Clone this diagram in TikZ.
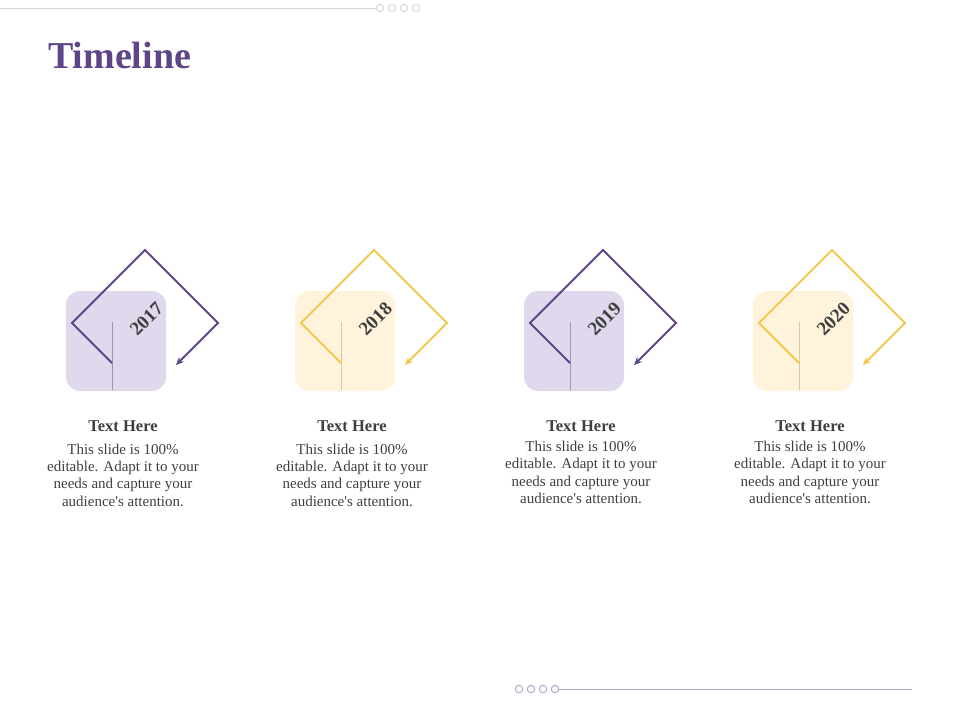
\documentclass[tikz,border=0pt]{standalone}
\usepackage{fontspec}
\setmainfont{Liberation Serif}[Ligatures=TeXOff]
\usetikzlibrary{arrows.meta}
\definecolor{purp}{HTML}{5E4488}
\definecolor{purpl}{HTML}{E0D8EC}
\definecolor{yel}{HTML}{F2C94C}
\definecolor{yell}{HTML}{FFF3DC}
\definecolor{txt}{HTML}{3F3F3F}
\definecolor{decot}{HTML}{D9D3E0}
\definecolor{decob}{HTML}{B6A9C4}
\tikzset{
  cardbox/.style={minimum width=100pt, minimum height=100pt, rounded corners=14pt, inner sep=0pt},
  diam/.style={line width=2pt, -{Stealth[length=8pt,width=7pt]}},
  seam/.style={line width=0.6pt, opacity=0.4},
  yearlbl/.style={font=\fontsize{19}{19}\selectfont\bfseries, text=txt, rotate=45, inner sep=0pt},
  headlbl/.style={font=\fontsize{16.5}{18}\selectfont\bfseries, text=txt, anchor=base, inner sep=0pt},
  bodylbl/.style={font=\fontsize{15}{17.3}\selectfont, text=txt, align=center, anchor=base, inner sep=0pt},
  dot/.style={circle, draw=#1, line width=1pt, minimum size=7.5pt, inner sep=0pt},
}
\begin{document}
\begin{tikzpicture}[x=1pt,y=-1pt]
\useasboundingbox (0,0) rectangle (960,720);
% title
\node[anchor=base west, inner sep=0pt, text=purp, font=\fontsize{38}{40}\selectfont\bfseries] (title) at (48,68) {Timeline};
% top decoration
\coordinate (tl) at (0,8);
\node[dot=decot] (t1) at (380,8) {};
\node[dot=decot] (t2) at (392,8) {};
\node[dot=decot] (t3) at (404,8) {};
\node[dot=decot] (t4) at (416,8) {};
\draw[decot, line width=1pt] (tl) -- (t1);
% bottom decoration
\node[dot=decob] (b1) at (519,689) {};
\node[dot=decob] (b2) at (531,689) {};
\node[dot=decob] (b3) at (543,689) {};
\node[dot=decob] (b4) at (555,689) {};
\coordinate (br) at (912,689);
\draw[decob, line width=1pt] (b4) -- (br);
% units
\foreach \i/\yr/\c/\cl/\dy in {0/2017/purp/purpl/0, 1/2018/yel/yell/0, 2/2019/purp/purpl/-2.5, 3/2020/yel/yell/-2.5}{
  \pgfmathsetmacro{\x}{66+229*\i}
  \node[cardbox, fill=\cl] (box\i) at (\x+50,341) {};
  \draw[seam, draw=\c!70!black] (\x+46,322) -- (\x+46,390);
  \coordinate (s\i) at (\x+46,363);
  \coordinate (l\i) at (\x+6,323);
  \coordinate (t\i) at (\x+79,250);
  \coordinate (r\i) at (\x+152,323);
  \coordinate (e\i) at (\x+110,365);
  \draw[diam, draw=\c] (s\i) -- (l\i) -- (t\i) -- (r\i) -- (e\i);
  \node[yearlbl] (yr\i) at (\x+80.5,319) {\yr};
  \node[headlbl] (h\i) at (\x+57,431) {Text Here};
  \node[bodylbl] (d\i) at (\x+57,506+\dy) {This slide is 100\%\\editable. Adapt it to your\\needs and capture your\\audience's attention.};
}
\end{tikzpicture}
\end{document}
